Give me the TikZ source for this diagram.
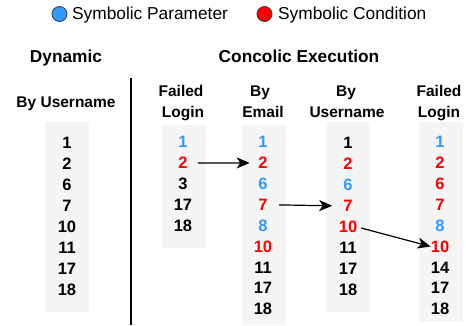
\documentclass[tikz,border=0pt]{standalone}
\usepackage{fontspec}
\setmainfont{Liberation Sans}
\usetikzlibrary{arrows.meta}
\definecolor{pblue}{HTML}{3399FF}
\definecolor{cred}{HTML}{FF0000}
\definecolor{boxgray}{HTML}{F5F5F5}
\definecolor{edgegray}{HTML}{36393D}
\tikzset{
  colbox/.style={fill=boxgray, draw=none, minimum width=44pt, inner sep=0pt},
  num/.style={font=\fontsize{16.5}{18}\selectfont\bfseries, inner sep=0pt, anchor=center},
  title/.style={font=\fontsize{17.3}{20}\selectfont\bfseries, inner sep=0pt, anchor=base},
  head/.style={font=\fontsize{15.5}{18}\selectfont\bfseries, inner sep=0pt, anchor=base},
  legtext/.style={font=\fontsize{17.3}{20}\selectfont, inner sep=0pt, anchor=base west},
  legdot/.style={circle, draw=edgegray, line width=0.8pt, minimum size=15pt, inner sep=0pt},
  arr/.style={line width=1.2pt, -{Stealth[length=13pt,width=11pt,inset=3.5pt]}},
}
\begin{document}
\begin{tikzpicture}[x=1pt, y=-1pt]
\useasboundingbox (0,0) rectangle (466,325);
% legend
\node[legdot, fill=pblue] (dotp) at (59.5,14) {};
\node[legtext] (legp) at (72,19) {Symbolic Parameter};
\node[legdot, fill=cred] (dotc) at (264.5,14) {};
\node[legtext] (legc) at (278,19) {Symbolic Condition};
% titles
\node[title] (tdyn) at (66,62.5) {Dynamic};
\node[title] (tcon) at (299,62.5) {Concolic Execution};
% divider
\coordinate (dtop) at (131,78);
\coordinate (dbot) at (131,325);
\draw[line width=1.3pt] (dtop) -- (dbot);
% column headers
\node[head] (h1) at (66,107) {By Username};
\node[head] (h2a) at (181,96.5) {Failed};
\node[head] (h2b) at (183,117.5) {Login};
\node[head] (h3a) at (260,96.5) {By};
\node[head] (h3b) at (263,117.5) {Email};
\node[head] (h4a) at (346,96.5) {By};
\node[head] (h4b) at (347,117.5) {Username};
\node[head] (h5a) at (439,96.5) {Failed};
\node[head] (h5b) at (439,117.5) {Login};
% boxes
\node[colbox, minimum height=190pt] (b1) at (67,217) {};
\node[colbox, minimum height=123pt] (b2) at (184,186.5) {};
\node[colbox, minimum height=200pt] (b3) at (264,225) {};
\node[colbox, minimum height=190pt] (b4) at (348,217) {};
\node[colbox, minimum height=200pt] (b5) at (441,222) {};
% numbers
\foreach \t/\c [count=\i] in {1/black,2/black,6/black,7/black,10/black,11/black,17/black,18/black}
  \node[num, text=\c] (a\i) at (67,{143+21*(\i-1)}) {\t};
\foreach \t/\c [count=\i] in {1/pblue,2/cred,3/black,17/black,18/black}
  \node[num, text=\c] (b\i) at (183,{142+21*(\i-1)}) {\t};
\foreach \t/\c [count=\i] in {1/pblue,2/cred,6/pblue,7/cred,8/pblue,10/cred,11/black,17/black,18/black}
  \node[num, text=\c] (c\i) at (263,{142+20.9*(\i-1)}) {\t};
\foreach \t/\c [count=\i] in {1/black,2/cred,6/pblue,7/cred,10/cred,11/black,17/black,18/black}
  \node[num, text=\c] (d\i) at (348,{143+21*(\i-1)}) {\t};
\foreach \t/\c [count=\i] in {1/pblue,2/cred,6/cred,7/cred,8/pblue,10/cred,14/black,17/black,18/black}
  \node[num, text=\c] (e\i) at (440,{142+20.9*(\i-1)}) {\t};
% arrows
\draw[arr, shorten <=10pt, shorten >=8.5pt] (b2.east) -- (c2.west);
\draw[arr, shorten <=11.4pt, shorten >=11pt] (c4.east) -- (d4.west);
\draw[arr, shorten <=4pt, shorten >=0pt] (d5.east) -- (e6.west);
\end{tikzpicture}
\end{document}
